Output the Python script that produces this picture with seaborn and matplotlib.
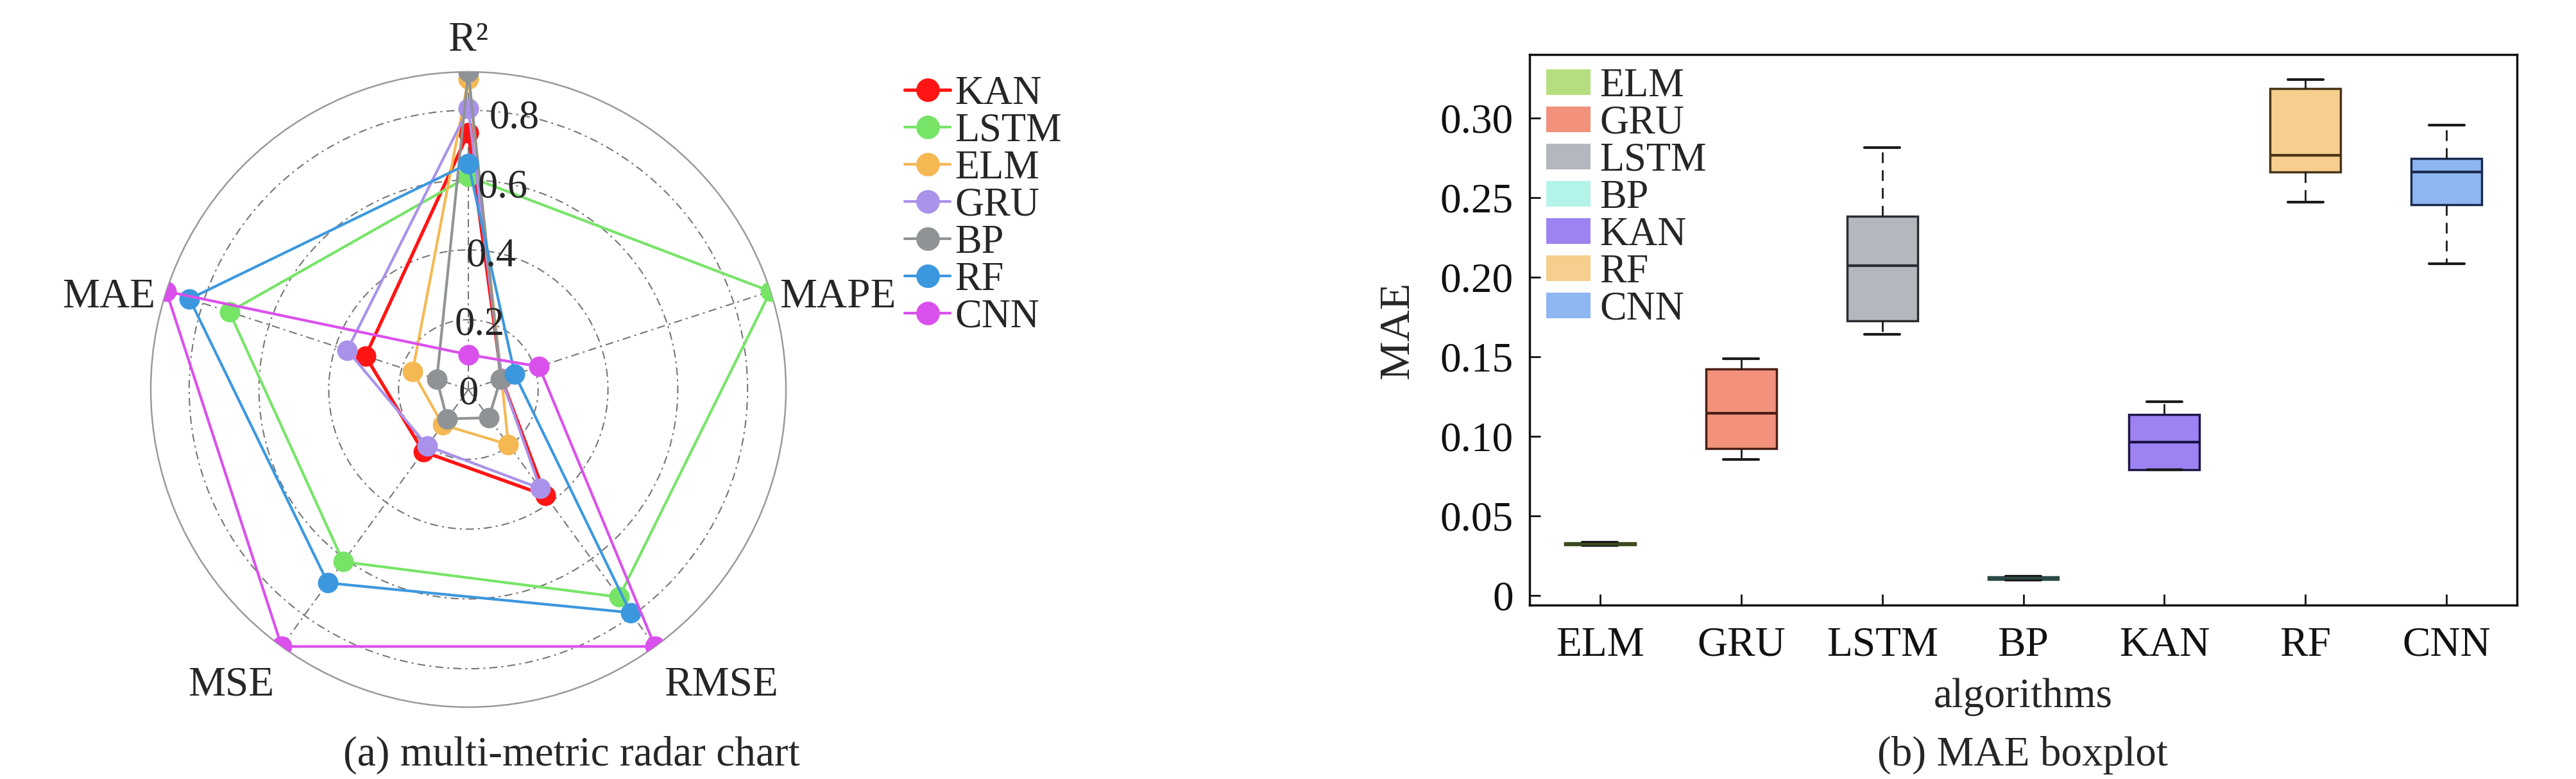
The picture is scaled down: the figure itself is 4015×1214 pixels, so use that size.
import numpy as np
import pandas as pd
import matplotlib
matplotlib.use("Agg")
import matplotlib.pyplot as plt
from matplotlib.patches import Patch
import seaborn as sns

# radar chart: normalised metric scores, order R2, MAPE, RMSE, MSE, MAE
metrics = ["R²", "MAPE", "RMSE", "MSE", "MAE"]
radar_models = ["KAN", "LSTM", "ELM", "GRU", "BP", "RF", "CNN"]
kan_scores = [0.735, 0.10, 0.375, 0.22, 0.31]
lstm_scores = [0.61, 0.91, 0.735, 0.61, 0.72]
elm_scores = [0.89, 0.10, 0.195, 0.125, 0.168]
gru_scores = [0.805, 0.10, 0.35, 0.20, 0.365]
bp_scores = [0.91, 0.097, 0.10, 0.104, 0.095]
rf_scores = [0.647, 0.14, 0.79, 0.685, 0.84]
cnn_scores = [0.10, 0.213, 0.91, 0.91, 0.91]
radar_colors = ["#FF1414", "#77E468", "#F5B853", "#AA92EA", "#8F9395", "#3C98DE", "#DA50EC"]
r_ticks = [0, 0.2, 0.4, 0.6, 0.8]
r_max = 0.91

# boxplot: MAE of each algorithm over repeated runs
algorithms = ["ELM", "GRU", "LSTM", "BP", "KAN", "RF", "CNN"]
mae_elm = [0.0315, 0.032, 0.0325, 0.033, 0.0335]
mae_gru = [0.0856, 0.0923, 0.1147, 0.1422, 0.149]
mae_lstm = [0.1643, 0.1728, 0.2074, 0.2382, 0.2816]
mae_bp = [0.0098, 0.0102, 0.011, 0.0118, 0.0122]
mae_kan = [0.079, 0.079, 0.0963, 0.1138, 0.1218]
mae_rf = [0.2471, 0.2663, 0.2767, 0.3187, 0.3243]
mae_cnn = [0.2085, 0.2456, 0.2663, 0.2748, 0.2957]
box_fill = ["#B5DF7E", "#F2917C", "#B4B7BD", "#B4F3E9", "#9D82F2", "#F6CE8E", "#8EB7F1"]
box_edge = ["#3A4A1E", "#4A1E14", "#2A2E33", "#2C4A45", "#1E1548", "#4A3418", "#1A2A4E"]
mae_ticks = [0, 0.05, 0.10, 0.15, 0.20, 0.25, 0.30]

sns.set_theme(style="white")
plt.rcParams["font.family"] = ["Liberation Serif", "DejaVu Serif"]

W, H = 4016, 1214
FS = 47
fig = plt.figure(figsize=(W / 100, H / 100), dpi=100)
fig.patch.set_facecolor("white")

# ---------------- (a) radar ----------------
cx, cy, rad = 730, 607, 495
axr = fig.add_axes([(cx - rad) / W, 1 - (cy + rad) / H, 2 * rad / W, 2 * rad / H],
                   projection="polar")
axr.set_theta_offset(np.pi / 2)
axr.set_theta_direction(-1)
angles = np.linspace(0, 2 * np.pi, len(metrics), endpoint=False)
closed = np.append(angles, angles[0])

all_scores = [kan_scores, lstm_scores, elm_scores, gru_scores, bp_scores, rf_scores, cnn_scores]
handles = []
for name, vals, col in zip(radar_models, all_scores, radar_colors):
    v = np.append(vals, vals[0])
    ln, = axr.plot(closed, v, color=col, lw=3.8 if name == "KAN" else 3.0,
                   marker="o", ms=23, mew=0, label=name, zorder=3)
    handles.append(ln)

axr.set_ylim(0, r_max)
axr.set_xticks(angles)
axr.set_xticklabels([])
axr.set_yticks(r_ticks[1:])
axr.set_yticklabels([])
axr.tick_params(axis="x", length=0)
axr.xaxis.grid(True, color="#767676", lw=1.5, ls=(0, (6, 3, 1.5, 3)))
axr.yaxis.grid(True, color="#767676", lw=1.5, ls=(0, (6, 3, 1.5, 3)))
axr.spines["polar"].set_color("#9a9a9a")
axr.spines["polar"].set_linewidth(1.8)
axr.set_facecolor("white")

for v in r_ticks:
    axr.text(np.deg2rad(9.5), v, "0" if v == 0 else f"{v:.1f}", ha="center",
             va="center_baseline", fontsize=FS - 2, zorder=10)

# metric labels: (angle deg, radius as share of r_max, ha, va)
label_place = [(0, 1.066, "center", "baseline"), (72.7, 1.026, "left", "center_baseline"),
               (139.1, 1.214, "center", "center_baseline"), (219.2, 1.183, "center", "center_baseline"),
               (287.2, 1.032, "right", "center_baseline")]
for m, (ang, rr, ha, va) in zip(metrics, label_place):
    axr.text(np.deg2rad(ang), rr * r_max, m, ha=ha, va=va, fontsize=FS, clip_on=False)

fig.legend(handles, radar_models, loc="upper left", bbox_to_anchor=(1410 / W, 1 - 118 / H),
           frameon=False, fontsize=45, handlelength=1.14, handletextpad=0.12,
           labelspacing=0, borderpad=0, borderaxespad=0, markerscale=1.15)

fig.text(891 / W, 1 - 1193 / H, "(a) multi-metric radar chart", ha="center", va="baseline",
         fontsize=FS)

# ---------------- (b) boxplot ----------------
mae_df = pd.DataFrame({
    "algorithm": np.repeat(algorithms, 5),
    "MAE": np.concatenate([mae_elm, mae_gru, mae_lstm, mae_bp, mae_kan, mae_rf, mae_cnn]),
})
axb = fig.add_axes([2384 / W, 1 - 943 / H, (3923 - 2384) / W, (943 - 85) / H])
sns.boxplot(data=mae_df, x="algorithm", y="MAE", hue="algorithm", order=algorithms,
            hue_order=algorithms, palette=box_fill, saturation=1, width=0.5, whis=(0, 100),
            showfliers=False, linewidth=2.5, legend=False, ax=axb,
            whiskerprops=dict(linestyle=(0, (6, 4)), color="#1a1a1a", linewidth=2),
            capprops=dict(color="#1a1a1a", linewidth=3),
            medianprops=dict(linewidth=3))

for cont in axb.containers:
    for b, med in zip(cont.boxes, cont.medians):
        idx = int(round(np.mean(b.get_path().vertices[:, 0])))
        b.set_edgecolor(box_edge[idx])
        med.set_color(box_edge[idx])

axb.set_xlim(-0.5, 6.5)
axb.set_ylim(-0.006, 0.340)
axb.set_yticks(mae_ticks)
axb.set_yticklabels(["0"] + [f"{t:.2f}" for t in mae_ticks[1:]])
axb.tick_params(direction="in", length=12.5, width=2, labelsize=FS, colors="#111111",
                bottom=True, left=True)
axb.tick_params(axis="x", pad=24)
axb.tick_params(axis="y", pad=18)
for sp in axb.spines.values():
    sp.set_visible(True)
    sp.set_linewidth(2.5)
    sp.set_color("#111111")
axb.set_xlabel("algorithms", fontsize=FS, labelpad=15)
axb.set_ylabel("MAE", fontsize=49, labelpad=26)

leg_handles = [Patch(facecolor=c, edgecolor="none") for c in box_fill]
axb.legend(leg_handles, algorithms, loc="upper left", bbox_to_anchor=(2410 / W, 1 - 106 / H),
           bbox_transform=fig.transFigure, frameon=False, fontsize=45, handlelength=1.1,
           handleheight=0.61, handletextpad=0.23, labelspacing=0, borderpad=0,
           borderaxespad=0)

fig.text(3153 / W, 1 - 1193 / H, "(b) MAE boxplot", ha="center", va="baseline", fontsize=FS)

fig.savefig("out.png", dpi=100, facecolor="white")
